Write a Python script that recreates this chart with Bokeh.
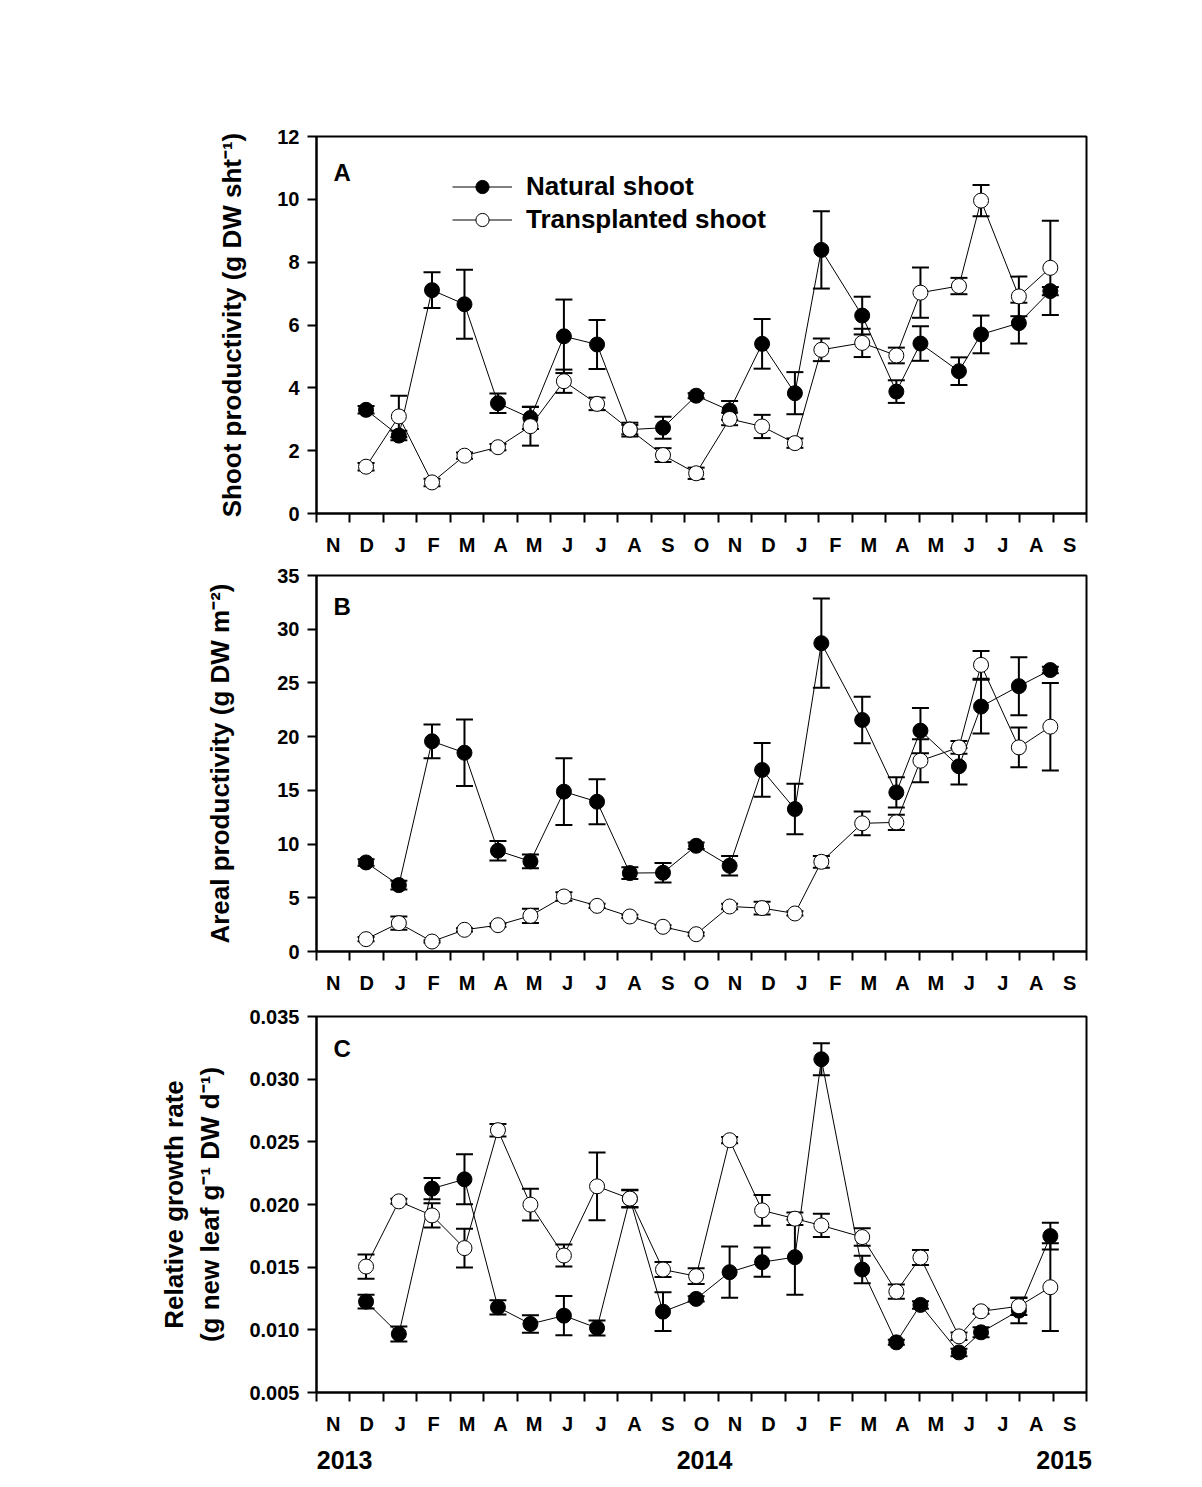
from bokeh.plotting import figure
from bokeh.models import (Range1d, FixedTicker, LinearAxis, Whisker, TeeHead,
                          ColumnDataSource, Legend, LegendItem, Label,
                          NumeralTickFormatter)
from bokeh.layouts import column
from bokeh.embed import file_html
from bokeh.resources import INLINE

FONT = "Liberation Sans"

# ---------------- data ----------------
month_labels = ["N", "D", "J", "F", "M", "A", "M", "J", "J", "A", "S", "O",
                "N", "D", "J", "F", "M", "A", "M", "J", "J", "A", "S"]
year_labels = ["2013", "2014", "2015"]
year_positions = [0.34, 11.09, 21.83]

# sampling time, in months (0 = middle of November 2013)
sample_month = [0.98, 1.96, 2.95, 3.92, 4.92, 5.89, 6.89, 7.88, 8.86, 9.85,
                10.84, 11.84, 12.81, 13.79, 14.58, 15.80, 16.82, 17.54,
                18.69, 19.35, 20.48, 21.42]

# A: shoot productivity (g DW sht-1)
shoot_nat = [3.30, 2.48, 7.11, 6.66, 3.51, 3.04, 5.64, 5.38, 2.67, 2.73, 3.75,
             3.28, 5.40, 3.83, 8.39, 6.30, 3.88, 5.41, 4.53, 5.70, 6.06, 7.08]
shoot_nat_se = [0.12, 0.15, 0.57, 1.10, 0.31, 0.35, 1.17, 0.78, 0.22, 0.35, 0.08,
                0.30, 0.79, 0.67, 1.23, 0.60, 0.36, 0.55, 0.44, 0.60, 0.65, 0.13]
shoot_tr = [1.49, 3.09, 0.99, 1.84, 2.11, 2.78, 4.21, 3.49, 2.67, 1.86, 1.28,
            3.01, 2.77, 2.24, 5.21, 5.43, 5.03, 7.03, 7.24, 9.96, 6.91, 7.82]
shoot_tr_se = [0.12, 0.66, 0.12, 0.10, 0.10, 0.62, 0.37, 0.20, 0.15, 0.22, 0.18,
               0.20, 0.37, 0.15, 0.36, 0.45, 0.25, 0.80, 0.26, 0.50, 0.63, 1.50]

# B: areal productivity (g DW m-2)
areal_nat = [8.29, 6.18, 19.57, 18.5, 9.38, 8.39, 14.88, 13.94, 7.30, 7.33, 9.84,
             7.98, 16.9, 13.26, 28.7, 21.55, 14.81, 20.56, 17.24, 22.8, 24.7, 26.2]
areal_nat_se = [0.3, 0.4, 1.57, 3.1, 0.9, 0.65, 3.1, 2.1, 0.55, 0.9, 0.3,
                0.9, 2.5, 2.35, 4.15, 2.17, 1.4, 2.1, 1.7, 2.5, 2.7, 0.3]
areal_tr = [1.15, 2.64, 0.93, 2.02, 2.45, 3.32, 5.12, 4.25, 3.26, 2.30, 1.61,
            4.19, 4.04, 3.54, 8.35, 11.93, 12.02, 17.76, 19.0, 26.68, 19.0, 20.93]
areal_tr_se = [0.2, 0.62, 0.1, 0.15, 0.15, 0.66, 0.4, 0.2, 0.15, 0.15, 0.15,
               0.25, 0.6, 0.2, 0.55, 1.1, 0.7, 2.0, 0.6, 1.3, 1.86, 4.07]

# C: relative growth rate (g new leaf g-1 DW d-1)
rgr_nat = [0.01225, 0.00967, 0.02127, 0.02201, 0.0118, 0.01047, 0.01113, 0.01015,
           0.02047, 0.01145, 0.01247, 0.0146, 0.0154, 0.0158, 0.03159, 0.01481,
           0.0090, 0.01199, 0.0082, 0.0098, 0.01153, 0.01748]
rgr_nat_se = [0.00055, 0.0006, 0.00085, 0.002, 0.00057, 0.0007, 0.00156, 0.0006,
              0.0007, 0.00155, 0.0002, 0.00205, 0.00117, 0.003, 0.00127, 0.0011,
              0.0002, 0.0003, 0.0003, 0.0004, 0.001, 0.00107]
rgr_tr = [0.01505, 0.02025, 0.01913, 0.01652, 0.02593, 0.01999, 0.01593, 0.02145,
          0.02047, 0.01481, 0.01428, 0.02513, 0.01953, 0.01887, 0.01833, 0.0174,
          0.01305, 0.01577, 0.00948, 0.01148, 0.01188, 0.0134]
rgr_tr_se = [0.00097, 0.0002, 0.00096, 0.00155, 0.0005, 0.00127, 0.00088, 0.0027,
             0.00067, 0.0006, 0.00063, 0.00025, 0.00123, 0.0005, 0.00093, 0.0007,
             0.00057, 0.0006, 0.0003, 0.0002, 0.0007, 0.0035]


def add_series(p, vals, errs, fill):
    src = ColumnDataSource(dict(
        x=sample_month, y=vals,
        upper=[v + e for v, e in zip(vals, errs)],
        lower=[v - e for v, e in zip(vals, errs)]))
    w = Whisker(base="x", upper="upper", lower="lower", source=src,
                dimension="height", line_width=2, line_color="black",
                upper_head=TeeHead(size=17, line_width=2, line_color="black"),
                lower_head=TeeHead(size=17, line_width=2, line_color="black"),
                level="underlay")
    p.add_layout(w)
    ln = p.line("x", "y", source=src, line_color="black", line_width=1)
    sc = p.scatter("x", "y", source=src, marker="circle", size=15,
                   fill_color=fill, line_color="black", line_width=1)
    return ln, sc


def make_panel(ylo, yhi, yticks, ylabel, letter, letter_y, top, bottom,
               label_standoff, frame_h=376, fmt=None, years=False):
    p = figure(frame_width=770, frame_height=frame_h,
               x_range=Range1d(-0.5, 22.5), y_range=Range1d(ylo, yhi),
               x_axis_type=None, y_axis_type=None,
               output_backend="svg", toolbar_location=None,
               min_border_left=316, min_border_right=40,
               min_border_top=top, min_border_bottom=bottom)
    p.outline_line_color = "black"
    p.outline_line_width = 2
    p.background_fill_color = "white"
    p.border_fill_color = "white"

    xa = LinearAxis(
        ticker=FixedTicker(ticks=list(range(len(month_labels))),
                           minor_ticks=[i - 0.5 for i in range(len(month_labels) + 1)]),
        major_label_overrides={i: m for i, m in enumerate(month_labels)})
    xa.major_tick_line_color = None
    xa.major_tick_out = 0
    xa.major_tick_in = 0
    xa.minor_tick_line_color = "black"
    xa.minor_tick_line_width = 2
    xa.minor_tick_out = 9
    xa.minor_tick_in = 0
    xa.axis_line_width = 2
    xa.axis_line_color = "black"
    xa.major_label_text_font = FONT
    xa.major_label_text_font_size = "20px"
    xa.major_label_text_font_style = "bold"
    xa.major_label_text_color = "black"
    xa.major_label_standoff = 11
    p.add_layout(xa, "below")

    if years:
        ya2 = LinearAxis(
            ticker=FixedTicker(ticks=year_positions, minor_ticks=[]),
            major_label_overrides={pos: y for pos, y in zip(year_positions, year_labels)})
        ya2.axis_line_color = None
        ya2.major_tick_line_color = None
        ya2.minor_tick_line_color = None
        ya2.major_tick_out = 0
        ya2.major_tick_in = 0
        ya2.major_label_text_font = FONT
        ya2.major_label_text_font_size = "25px"
        ya2.major_label_text_font_style = "bold"
        ya2.major_label_text_color = "black"
        ya2.major_label_standoff = 13
        p.add_layout(ya2, "below")

    ya = LinearAxis(ticker=FixedTicker(ticks=yticks, minor_ticks=[]),
                    axis_label=ylabel)
    if fmt is not None:
        ya.formatter = fmt
    ya.minor_tick_line_color = None
    ya.major_tick_out = 9
    ya.major_tick_in = 0
    ya.major_tick_line_width = 2
    ya.axis_line_width = 2
    ya.axis_line_color = "black"
    ya.major_label_text_font = FONT
    ya.major_label_text_font_size = "20px"
    ya.major_label_text_font_style = "bold"
    ya.major_label_text_color = "black"
    ya.major_label_standoff = 8
    ya.axis_label_text_font = FONT
    ya.axis_label_text_font_size = "26px"
    ya.axis_label_text_font_style = "bold"
    ya.axis_label_text_color = "black"
    ya.axis_label_standoff = label_standoff
    p.add_layout(ya, "left")

    p.add_layout(Label(x=0.01, y=letter_y, text=letter, text_font=FONT,
                       text_font_size="24px", text_font_style="bold",
                       text_color="black",
                       text_baseline="alphabetic", text_align="left"))
    return p


# Panel A
pA = make_panel(0, 12, [0, 2, 4, 6, 8, 10, 12],
                "Shoot productivity (g DW sht\u207B\u00B9)", "A", 10.85,
                top=136, bottom=50, label_standoff=27, frame_h=377)
lnA1, scA1 = add_series(pA, shoot_nat, shoot_nat_se, "black")
lnA2, scA2 = add_series(pA, shoot_tr, shoot_tr_se, "white")
leg = Legend(items=[LegendItem(label="Natural shoot", renderers=[lnA1, scA1]),
                    LegendItem(label="Transplanted shoot", renderers=[lnA2, scA2])],
             location=(136, 277))
leg.label_text_font = FONT
leg.label_text_font_size = "26px"
leg.label_text_font_style = "bold"
leg.label_text_color = "black"
leg.glyph_width = 60
leg.glyph_height = 33
leg.label_height = 30
leg.label_standoff = 14
leg.spacing = 0
leg.padding = 0
leg.margin = 0
leg.border_line_color = None
leg.background_fill_alpha = 0
pA.add_layout(leg)

# Panel B
pB = make_panel(0, 35, [0, 5, 10, 15, 20, 25, 30, 35],
                "Areal productivity (g DW m\u207B\u00B2)", "B", 32.14,
                top=12, bottom=50, label_standoff=39)
add_series(pB, areal_nat, areal_nat_se, "black")
add_series(pB, areal_tr, areal_tr_se, "white")

# Panel C
pC = make_panel(0.005, 0.035, [0.005, 0.010, 0.015, 0.020, 0.025, 0.030, 0.035],
                "Relative growth rate\n(g new leaf g\u207B\u00B9 DW d\u207B\u00B9)", "C", 0.03247,
                top=15, bottom=90, label_standoff=21,
                fmt=NumeralTickFormatter(format="0.000"), years=True)
add_series(pC, rgr_nat, rgr_nat_se, "black")
add_series(pC, rgr_tr, rgr_tr_se, "white")

layout = column(pA, pB, pC, spacing=0)
open("out.html", "w").write(file_html(layout, INLINE))
